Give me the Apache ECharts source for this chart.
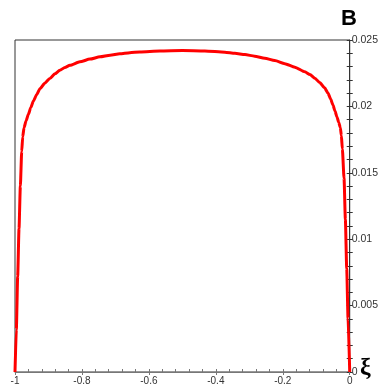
<!DOCTYPE html>
<html><head><meta charset="utf-8">
<script src="https://cdn.jsdelivr.net/npm/echarts@6/dist/echarts.min.js"></script>
<style>html,body{margin:0;padding:0;background:#fff}#c{width:381px;height:391px}</style>
</head><body><div id="c"></div>
<script>
const xi = [-1, -0.996, -0.992, -0.988, -0.984, -0.980, -0.977, -0.973, -0.967, -0.960, -0.953, -0.945, -0.935, -0.925, -0.911, -0.896, -0.881, -0.866, -0.851, -0.836, -0.806, -0.776, -0.746, -0.716, -0.687, -0.657, -0.627, -0.567, -0.500, -0.433, -0.373, -0.343, -0.313, -0.284, -0.254, -0.224, -0.194, -0.164, -0.134, -0.119, -0.104, -0.090, -0.075, -0.065, -0.057, -0.050, -0.044, -0.038, -0.033, -0.028, -0.025, -0.022, -0.017, -0.013, -0.009, -0.005, 0];
const B  = [0, 0.0032, 0.0072, 0.0108, 0.0140, 0.0166, 0.0177, 0.0184, 0.0189, 0.0194, 0.0199, 0.0204, 0.0209, 0.02135, 0.02175, 0.0221, 0.02245, 0.02272, 0.02293, 0.02310, 0.02336, 0.02356, 0.02373, 0.02386, 0.02396, 0.02404, 0.02410, 0.02417, 0.02420, 0.02417, 0.02408, 0.02400, 0.02390, 0.02378, 0.02363, 0.02345, 0.02322, 0.02295, 0.02260, 0.02240, 0.02212, 0.02180, 0.02140, 0.0210, 0.02055, 0.0201, 0.01965, 0.0192, 0.0188, 0.0184, 0.0178, 0.0168, 0.0146, 0.0115, 0.0078, 0.0040, 0];
const xTicks = {'-1':'-1','-0.8':'-0.8','-0.6':'-0.6','-0.4':'-0.4','-0.2':'-0.2','0':'0'};
const yTicks = {'0':'0','0.005':'0.005','0.01':'0.01','0.015':'0.015','0.02':'0.02','0.025':'0.025'};

const chart = echarts.init(document.getElementById('c'), null, {renderer:'canvas'});
const fmtX = v => { const k = String(Math.round(v*10)/10); return xTicks[k] !== undefined ? xTicks[k] : k; };
const fmtY = v => { const k = String(Math.round(v*1000)/1000); return yTicks[k] !== undefined ? yTicks[k] : k; };
const font = 'Liberation Sans, Arial, sans-serif';
chart.setOption({
  animation:false,
  grid:{left:15, right:31, top:40, bottom:19, show:true, borderColor:'#333', borderWidth:1},
  xAxis:[{
    type:'value', min:-1, max:0, interval:0.2, position:'bottom',
    axisLine:{show:true, onZero:false, lineStyle:{color:'#777', width:1}},
    axisTick:{show:true, inside:true, length:3, lineStyle:{color:'#777'}},
    minorTick:{show:true, splitNumber:5, length:3, lineStyle:{color:'#777'}},
    splitLine:{show:false},
    axisLabel:{show:true, margin:4, fontSize:10, color:'#333', fontFamily:font, formatter:fmtX}
  },{
    type:'value', min:-1, max:0, interval:0.2, position:'bottom',
    axisLine:{show:false, onZero:false},
    axisTick:{show:true, inside:false, length:3, lineStyle:{color:'#777'}},
    splitLine:{show:false}, axisLabel:{show:false}
  }],
  yAxis:[{
    type:'value', min:0, max:0.025, interval:0.005, position:'right',
    axisLine:{show:true, onZero:false, lineStyle:{color:'#333', width:1}},
    axisTick:{show:true, inside:true, length:3, lineStyle:{color:'#333'}},
    minorTick:{show:true, splitNumber:5, length:3, lineStyle:{color:'#333'}},
    splitLine:{show:false},
    axisLabel:{show:true, margin:2, fontSize:10.5, color:'#333', fontFamily:font, formatter:fmtY}
  },{
    type:'value', min:0, max:0.025, interval:0.005, position:'right',
    axisLine:{show:false, onZero:false},
    axisTick:{show:true, inside:false, length:3, lineStyle:{color:'#333'}},
    minorTick:{show:true, splitNumber:5, length:3, lineStyle:{color:'#333'}},
    splitLine:{show:false}, axisLabel:{show:false}
  }],
  series:[{
    type:'line', xAxisIndex:0, yAxisIndex:0,
    data: xi.map((v,i)=>[v, B[i]]),
    showSymbol:false, smooth:0.2, smoothMonotone:'x',
    lineStyle:{color:'#ff0000', width:3}
  }],
  graphic:[
    {type:'text', left:341, top:8, style:{text:'B', font:'bold 22px Liberation Sans, Arial, sans-serif', fill:'#000'}},
    {type:'text', left:360, top:356, style:{text:'ξ', font:'bold 24px Liberation Serif, DejaVu Serif, serif', fill:'#000'}}
  ]
});
</script></body></html>
